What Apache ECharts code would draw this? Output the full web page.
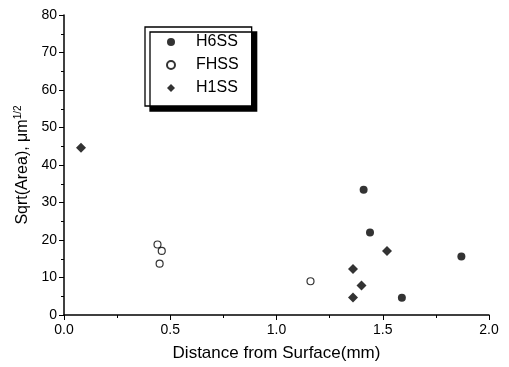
<!DOCTYPE html>
<html>
<head>
<meta charset="utf-8">
<script src="https://cdn.jsdelivr.net/npm/echarts@6/dist/echarts.min.js"></script>
<style>
  html, body { margin: 0; padding: 0; background: #fff; }
  #chart { width: 509px; height: 367px; }
</style>
</head>
<body>
<div id="chart"></div>
<script>
// data: [distance (mm), sqrt(area) um^1/2]
const h6ss = [[1.41, 33.4], [1.44, 22.0], [1.87, 15.6], [1.59, 4.6]];
const fhss = [[0.44, 18.8], [0.46, 17.1], [0.45, 13.7], [1.16, 9.0]];
const h1ss = [[0.08, 44.6], [1.52, 17.1], [1.36, 12.3], [1.40, 7.9], [1.36, 4.7]];
const legendNames = ["H6SS", "FHSS", "H1SS"];

const font = "Liberation Sans, Arial, sans-serif";

const chart = echarts.init(document.getElementById("chart"), null, { renderer: "canvas" });

const option = {
  animation: false,
  backgroundColor: "#fff",
  grid: { left: 64, right: 20, top: 15, bottom: 52 },
  legend: {
    data: legendNames,
    orient: "vertical",
    left: 145,
    top: 27,
    itemGap: 7,
    itemWidth: 8,
    itemHeight: 8,
    padding: [7, 13, 10, 21],
    backgroundColor: "#fff",
    borderColor: "#000",
    borderWidth: 1.3,
    shadowColor: "#000",
    shadowBlur: 0,
    shadowOffsetX: 5,
    shadowOffsetY: 5,
    textStyle: { fontFamily: font, fontSize: 16, lineHeight: 16, color: "#000", padding: [0, 0, 0, 16] }
  },
  xAxis: {
    type: "value",
    min: 0, max: 2, interval: 0.5,
    name: "Distance from Surface(mm)",
    nameLocation: "middle",
    nameGap: 30,
    nameTextStyle: { fontFamily: font, fontSize: 17, color: "#000" },
    axisLine: { lineStyle: { color: "#000", width: 1.5 } },
    axisTick: { inside: false, length: 5, lineStyle: { color: "#000" } },
    minorTick: { show: true, splitNumber: 2, length: 3, lineStyle: { color: "#000" } },
    splitLine: { show: false },
    axisLabel: {
      fontFamily: font, fontSize: 14, color: "#000", margin: 8,
      formatter: v => v.toFixed(1)
    }
  },
  yAxis: {
    type: "value",
    min: 0, max: 80, interval: 10,
    name: "{a|Sqrt(Area), μm}{s|1/2}",
    nameLocation: "middle",
    nameGap: 32,
    nameRotate: 90,
    nameTextStyle: {
      rich: {
        a: { fontFamily: font, fontSize: 16, color: "#000" },
        s: { fontFamily: font, fontSize: 10, color: "#000", verticalAlign: "top", padding: [0, 0, 8, 0] }
      }
    },
    axisLine: { show: true, lineStyle: { color: "#000", width: 1.5 } },
    axisTick: { show: true, inside: false, length: 5, lineStyle: { color: "#000" } },
    minorTick: { show: true, splitNumber: 2, length: 3, lineStyle: { color: "#000" } },
    splitLine: { show: false },
    axisLabel: { fontFamily: font, fontSize: 14, color: "#000", margin: 7 }
  },
  series: [
    {
      name: "H6SS", type: "scatter", data: h6ss,
      symbol: "circle", symbolSize: 8,
      itemStyle: { color: "#000" }
    },
    {
      name: "FHSS", type: "scatter", data: fhss,
      symbol: "circle", symbolSize: 7,
      itemStyle: { color: "#fff", borderColor: "#000", borderWidth: 1.2 }
    },
    {
      name: "H1SS", type: "scatter", data: h1ss,
      symbol: "diamond", symbolSize: 10,
      itemStyle: { color: "#000" }
    }
  ]
};

chart.setOption(option);
</script>
</body>
</html>
